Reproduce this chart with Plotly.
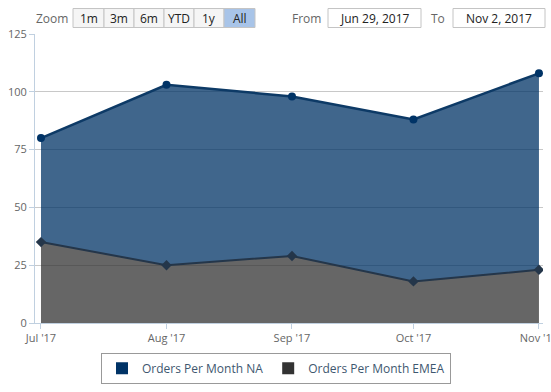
import plotly.graph_objects as go

# ---- data ----
months = ['2017-07-01', '2017-08-01', '2017-09-01', '2017-10-01', '2017-11-01']
tick_labels = ["Jul '17", "Aug '17", "Sep '17", "Oct '17", "Nov '17"]
orders_na = [80, 103, 98, 88, 108]
orders_emea = [35, 25, 29, 18, 23]
y_ticks = [0, 25, 50, 75, 100, 125]
zoom_buttons = ['1m', '3m', '6m', 'YTD', '1y', 'All']
date_from = 'Jun 29, 2017'
date_to = 'Nov 2, 2017'

W, H = 551, 392
L, R, T, B = 35, 8, 33.5, 69.3
PW, PH = W - L - R, H - T - B

def px(x):
    return (x - L) / PW

def py(y):
    return (H - B - y) / PH

FONT = 'Open Sans'

fig = go.Figure()

fig.add_trace(go.Scatter(
    x=months, y=orders_emea, mode='lines+markers', fill='tozeroy',
    fillcolor='rgba(51,51,51,0.75)',
    line=dict(color='#24364a', width=2),
    marker=dict(symbol='diamond', size=8, color='#24364a'),
    name='Orders Per Month EMEA', showlegend=False, hoverinfo='x+y'))

fig.add_trace(go.Scatter(
    x=months, y=orders_na, mode='lines+markers', fill='tonexty',
    fillcolor='rgba(0,51,102,0.75)',
    line=dict(color='#0d3a66', width=2.5),
    marker=dict(symbol='circle', size=8, color='#003366'),
    name='Orders Per Month NA', showlegend=False, hoverinfo='x+y'))

# legend entries
fig.add_trace(go.Scatter(x=[None], y=[None], mode='markers', name='Orders Per Month NA',
                         marker=dict(symbol='square', size=12, color='#003366')))
fig.add_trace(go.Scatter(x=[None], y=[None], mode='markers', name='Orders Per Month EMEA',
                         marker=dict(symbol='square', size=12, color='#333333')))

shapes = []
annotations = []

# Zoom label + buttons
annotations.append(dict(x=px(70), y=py(18), xref='paper', yref='paper', text='Zoom',
                        showarrow=False, xanchor='right', yanchor='middle',
                        font=dict(family=FONT, size=12, color='#666666')))
edges = [73, 104, 134, 164, 194, 224, 255]
for i, lab in enumerate(zoom_buttons):
    active = (lab == 'All')
    shapes.append(dict(type='rect', xref='paper', yref='paper',
                       x0=px(edges[i]), x1=px(edges[i + 1]), y0=py(27), y1=py(8),
                       fillcolor='#a8c4e8' if active else '#f5f5f5',
                       line=dict(color='#c4c4c4', width=1), layer='above'))
    annotations.append(dict(x=px((edges[i] + edges[i + 1]) / 2), y=py(17.5), xref='paper', yref='paper',
                            text=lab, showarrow=False, xanchor='center', yanchor='middle',
                            font=dict(family=FONT, size=12, color='#222222')))

# From / To boxes
annotations.append(dict(x=px(323), y=py(18), xref='paper', yref='paper', text='From',
                        showarrow=False, xanchor='right', yanchor='middle',
                        font=dict(family=FONT, size=12, color='#666666')))
shapes.append(dict(type='rect', xref='paper', yref='paper', x0=px(328), x1=px(421),
                   y0=py(27), y1=py(8), fillcolor='white', line=dict(color='#c4c4c4', width=1)))
annotations.append(dict(x=px(374.5), y=py(17.5), xref='paper', yref='paper', text=date_from,
                        showarrow=False, xanchor='center', yanchor='middle',
                        font=dict(family=FONT, size=12, color='#222222')))
annotations.append(dict(x=px(447), y=py(18), xref='paper', yref='paper', text='To',
                        showarrow=False, xanchor='right', yanchor='middle',
                        font=dict(family=FONT, size=12, color='#666666')))
shapes.append(dict(type='rect', xref='paper', yref='paper', x0=px(453), x1=px(545),
                   y0=py(27), y1=py(8), fillcolor='white', line=dict(color='#c4c4c4', width=1)))
annotations.append(dict(x=px(499), y=py(17.5), xref='paper', yref='paper', text=date_to,
                        showarrow=False, xanchor='center', yanchor='middle',
                        font=dict(family=FONT, size=12, color='#222222')))

fig.update_layout(
    width=W, height=H,
    margin=dict(l=L, r=R, t=T, b=B, autoexpand=False),
    paper_bgcolor='white', plot_bgcolor='white',
    font=dict(family=FONT, size=11, color='#666666'),
    shapes=shapes, annotations=annotations,
    legend=dict(orientation='h', x=px(276), xanchor='center', y=py(368), yanchor='middle',
                bordercolor='#999999', borderwidth=1, bgcolor='white',
                font=dict(family=FONT, size=12, color='#3e576f'),
                traceorder='normal', itemclick=False),
    xaxis=dict(type='date', range=['2017-06-29 12:30', '2017-11-02 00:00'],
               tickvals=months, ticktext=tick_labels,
               showgrid=False, zeroline=False,
               showline=True, linecolor='#c0d0e0', linewidth=1,
               ticks='outside', ticklen=5, tickcolor='#c0d0e0',
               tickfont=dict(family=FONT, size=11, color='#666666'),
               ticklabeloverflow='allow',
               automargin=False, fixedrange=True),
    yaxis=dict(range=[0, 125], tickvals=y_ticks,
               showgrid=True, gridcolor='#c8c8c8', gridwidth=1, zeroline=False,
               showline=True, linecolor='#c0d0e0', linewidth=1,
               ticks='outside', ticklen=5, tickcolor='#c0d0e0',
               tickfont=dict(family=FONT, size=11, color='#666666'),
               automargin=False, fixedrange=True),
    showlegend=True,
)

fig.write_html('out.html', config={'displayModeBar': False},
               post_script="document.body.style.margin='0';")
